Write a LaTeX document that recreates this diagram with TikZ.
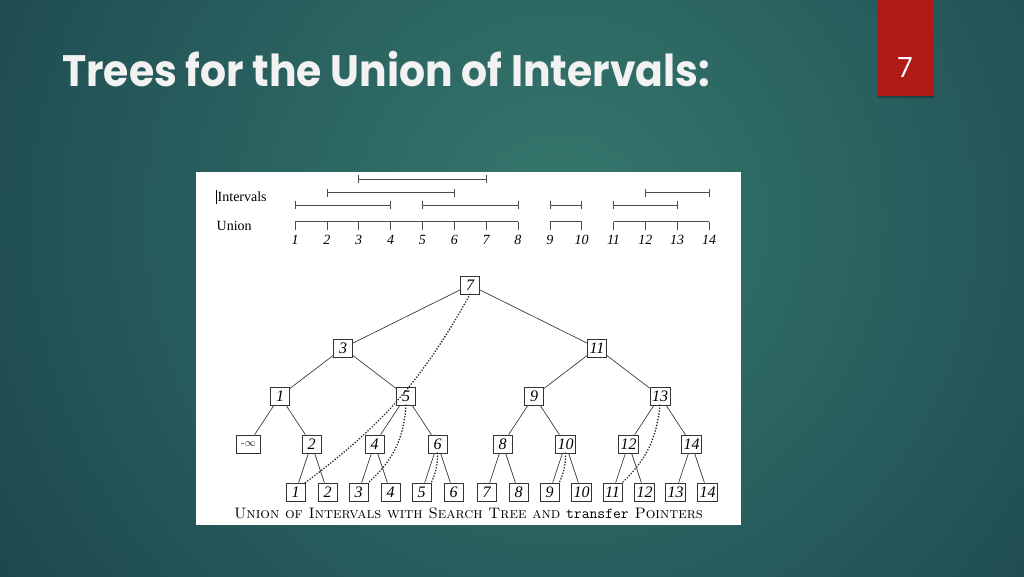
\documentclass[tikz,border=0pt]{standalone}
\usepackage{fontspec}
\newfontfamily\titlefont{Poppins}
\newfontfamily\numfont{Open Sans}
\newfontfamily\figfont{Liberation Serif}
\usepackage{tikz}
\definecolor{bgin}{HTML}{35786D}
\definecolor{bgout}{HTML}{153846}
\definecolor{slidered}{HTML}{B01B18}
\definecolor{titlewhite}{HTML}{F2F2F2}

\begin{document}
\begin{tikzpicture}[x=1pt,y=-1pt,level distance=48pt]
        \tikzstyle{box}=[draw=black!80,fill=white,line width=0.65pt,minimum width=19pt,minimum height=18pt,inner sep=2pt,font=\figfont\fontsize{16}{16}\selectfont\itshape]
        \tikzstyle{every child node}=[box]
        \tikzstyle{edge from parent}=[draw=black!80,line width=0.65pt]
        \tikzstyle{level 1}=[sibling distance=254pt, level distance=63pt]
        \tikzstyle{level 2}=[sibling distance=126pt, level distance=48pt]
        \tikzstyle{level 3}=[sibling distance=63pt, level distance=48pt]
        \tikzstyle{level 4}=[sibling distance=32pt, level distance=48pt]
        \tikzstyle{seg}=[draw=black!70,line width=0.6pt]
        \tikzstyle{pointer}=[draw=black!85,line width=1.8pt,dash pattern=on 0pt off 2.9pt,line cap=round]
        \tikzstyle{lbl}=[font=\figfont\fontsize{14}{14}\selectfont,anchor=west,inner sep=0pt]
        \useasboundingbox (0,0) rectangle (1024,576);
        \begin{scope}
            \clip (0,0) rectangle (1024,576);
            \fill[bgout] (0,0) rectangle (1024,576);
            \shade[inner color=bgin, outer color=bgout] (560,220) circle (880);
        \end{scope}
        \node[anchor=base west,inner sep=0pt,xscale=0.93,text=titlewhite,font=\titlefont\bfseries\fontsize{44}{44}\selectfont] (title) at (62,86) {Trees for the Union of Intervals:};
        \fill[slidered] (877,0) rectangle (934,96);
        \fill[black,opacity=0.25] (877,96) rectangle (934,98);
        \node[text=white,font=\numfont\fontsize{28}{28}\selectfont] (pnum) at (905,68) {7};
        \fill[white] (196,172) rectangle (741,525);
        \draw[line width=0.5pt] (216.5,190) -- (216.5,204);
        \node[lbl] (ivl) at (217.5,197) {Intervals};
        \node[lbl] (uni) at (216.5,226) {Union};
        \foreach \a/\b/\row in {3/7/179,2/6/192.5,12/14/192.5,1/4/205,5/8/205,9/10/205,11/13/205}{
            \pgfmathsetmacro\xa{295+(\a-1)*31.85}
            \pgfmathsetmacro\xb{295+(\b-1)*31.85}
            \draw[seg] (\xa,\row) -- (\xb,\row) (\xa,\row-4) -- (\xa,\row+4) (\xb,\row-4) -- (\xb,\row+4);
        }
        \foreach \a/\b in {1/8,9/10,11/14}{
            \pgfmathsetmacro\xa{295+(\a-1)*31.85}
            \pgfmathsetmacro\xb{295+(\b-1)*31.85}
            \draw[seg] (\xa,221.5) -- (\xb,221.5);
            \foreach \i in {\a,...,\b}{
                \pgfmathsetmacro\xi{295+(\i-1)*31.85}
                \draw[seg] (\xi,221.5) -- (\xi,230);
            }
        }
        \foreach \i in {1,...,14}{
            \pgfmathsetmacro\xi{295+(\i-1)*31.85}
            \node[font=\figfont\fontsize{14}{14}\selectfont\itshape] (u\i) at (\xi,239.5) {\i};
        }
        \node[box] (r) at (470,285) {7}
            child {node (n3) {3}
                child {node (n1) {1}
                    child {node[minimum width=24pt,font=\fontsize{11}{11}\selectfont] (ninf) {-$\infty$}}
                    child {node (n2) {2}
                        child {node (l1) {1}}
                        child {node (l2) {2}}}}
                child {node (n5) {5}
                    child {node (n4) {4}
                        child {node (l3) {3}}
                        child {node (l4) {4}}}
                    child {node (n6) {6}
                        child {node (l5) {5}}
                        child {node (l6) {6}}}}}
            child {node (n11) {11}
                child {node (n9) {9}
                    child {node (n8) {8}
                        child {node (l7) {7}}
                        child {node (l8) {8}}}
                    child {node (n10) {10}
                        child {node (l9) {9}}
                        child {node (l10) {10}}}}
                child {node (n13) {13}
                    child {node (n12) {12}
                        child {node (l11) {11}}
                        child {node (l12) {12}}}
                    child {node (n14) {14}
                        child {node (l13) {13}}
                        child {node (l14) {14}}}}};
        \draw[pointer] (r.south) to[bend left=12] (l1.north east);
        \draw[pointer] (n5.south) to[bend left=22] (l3.north east);
        \draw[pointer] (n6.south) to[bend left=12] (l5.north east);
        \draw[pointer] (n10.south) to[bend left=12] (l9.north east);
        \draw[pointer] (n13.south) to[bend left=20] (l11.north east);
        \node[font=\fontsize{15.2}{15.2}\selectfont] (cap) at (468.5,513) {\textsc{Union of Intervals with Search Tree and \texttt{\upshape transfer} Pointers}};
\end{tikzpicture}
\end{document}
